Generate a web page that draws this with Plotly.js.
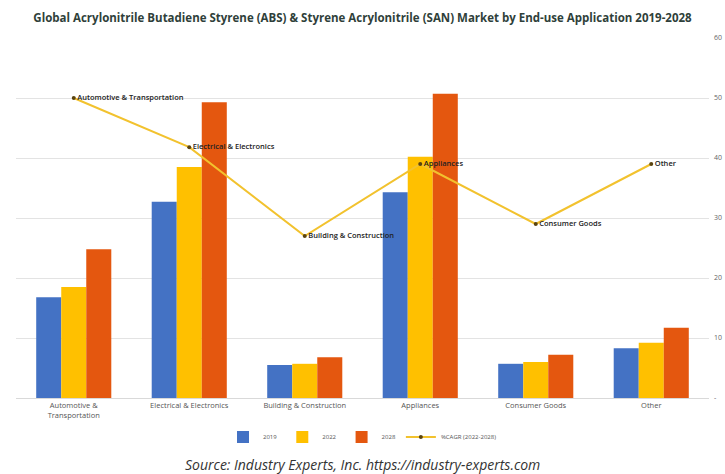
<!DOCTYPE html>
<html>
<head>
<meta charset="utf-8">
<script src="https://cdn.plot.ly/plotly-3.0.1.min.js"></script>
<style>
html,body{margin:0;padding:0;overflow:hidden;background:#fff;width:725px;height:474px;}
#chart{width:725px;height:474px;}
</style>
</head>
<body>
<div id="chart"></div>
<script>
const categories = ["Automotive &<br>Transportation","Electrical & Electronics","Building & Construction","Appliances","Consumer Goods","Other"];
const lineLabels = ["Automotive & Transportation","Electrical & Electronics","Building & Construction","Appliances","Consumer Goods","Other"];
const values2019 = [16.8, 32.7, 5.5, 34.3, 5.7, 8.3];
const values2022 = [18.5, 38.5, 5.7, 40.2, 6.0, 9.2];
const values2028 = [24.8, 49.3, 6.8, 50.7, 7.2, 11.7];
const cagr = [50.0, 41.8, 27.0, 39.0, 29.0, 39.0];
const yTicks = [0, 10, 20, 30, 40, 50, 60];
const yTickText = ["-", "10", "20", "30", "40", "50", "60"];

const traces = [
  {type:'bar', name:'2019', x:categories, y:values2019, marker:{color:'#4472C4'}},
  {type:'bar', name:'2022', x:categories, y:values2022, marker:{color:'#FFC000'}},
  {type:'bar', name:'2028', x:categories, y:values2028, marker:{color:'#E4570F'}},
  {type:'scatter', name:'%CAGR (2022-2028)', x:categories, y:cagr, mode:'lines+markers+text',
   text:lineLabels, textposition:'middle right',
   textfont:{size:7.5, color:'#222', family:'Open Sans, sans-serif', weight:600},
   line:{color:'#F2C22E', width:2}, marker:{color:'#5a4410', size:4}}
];

const layout = {
  width:725, height:474,
  margin:{l:16, r:16, t:38, b:76},
  paper_bgcolor:'#fff', plot_bgcolor:'#fff',
  font:{family:'Open Sans, sans-serif', color:'#444'},
  title:{text:'<b>Global Acrylonitrile Butadiene Styrene (ABS) & Styrene Acrylonitrile (SAN) Market by End-use Application 2019-2028</b>',
    font:{size:11.5, color:'#2f3f3a', family:'Open Sans, sans-serif'}, x:0.5, xref:'paper', y:0.962, yanchor:'middle'},
  barmode:'group', bargap:0.35, bargroupgap:0,
  xaxis:{type:'category', showgrid:false, zeroline:false, showline:true, linecolor:'#d9d9d9', linewidth:1,
    tickfont:{size:7.5, color:'#555'}, ticks:'', fixedrange:true},
  yaxis:{range:[0,60], side:'right', tickvals:yTicks, ticktext:yTickText, showgrid:true, gridcolor:'#e3e3e3',
    zeroline:false, showline:false, tickfont:{size:7, color:'#666'}, ticks:'', ticklabelstandoff:4, fixedrange:true,
    automargin:false},
  showlegend:true,
  legend:{orientation:'h', x:0.5, xanchor:'center', y:-0.108, yanchor:'middle', font:{size:6, color:'#555'},
    itemwidth:30, tracegroupgap:0},
  annotations:[
    {text:'<i>Source: Industry Experts, Inc. https://industry-experts.com</i>', xref:'paper', yref:'paper',
     x:0.5, y:-0.186, xanchor:'center', yanchor:'middle', showarrow:false,
     font:{size:14, color:'#333', family:'Open Sans, sans-serif'}}
  ]
};
Plotly.newPlot('chart', traces, layout, {displayModeBar:false, staticPlot:true});
</script>
</body>
</html>
